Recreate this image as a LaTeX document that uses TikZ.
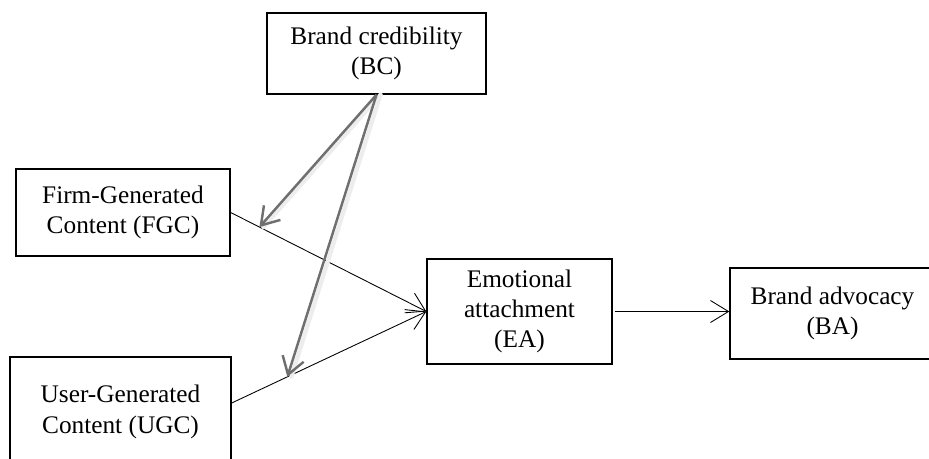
\documentclass[tikz,border=0pt]{standalone}
\usepackage{fontspec}
\setmainfont{Liberation Serif}
\usepackage{xcolor}
\usepackage{tikz}
\usetikzlibrary{arrows.meta,positioning,calc}
\definecolor{modgray}{HTML}{6F6F6F}
\definecolor{shadegray}{HTML}{EDEDED}
\tikzset{
  construct/.style={rectangle,draw=black,line width=0.8pt,fill=white,align=center,font=\fontsize{14.4}{17.2}\selectfont,inner sep=2pt},
  path/.style={-{Straight Barb[length=3.6mm,width=4.4mm]},line width=0.5pt,draw=black},
  moderate/.style={-{Straight Barb[length=3.4mm,width=4.4mm]},line width=1.4pt,draw=modgray}
}

\begin{document}
\begin{tikzpicture}[x=0.02cm,y=-0.02cm,
  shade/.style={line width=2.4pt,draw=shadegray,line cap=round}
]
  \useasboundingbox (0,0) rectangle (929,458);

  \node[construct,minimum width=4.38cm,minimum height=1.62cm] (bc) at (376.5,53.5) {Brand credibility\\(BC)};
  \node[construct,minimum width=4.28cm,minimum height=1.74cm] (fgc) at (123,212.5) {Firm-Generated\\Content (FGC)};
  \node[construct,minimum width=4.42cm,minimum height=2.2cm] (ugc) at (120.5,412) {User-Generated\\Content (UGC)};
  \node[construct,minimum width=3.7cm,minimum height=2.1cm] (ea) at (519.5,311.5) {Emotional\\attachment\\(EA)};
  \node[construct,minimum width=4.1cm,minimum height=1.82cm] (ba) at (832.5,313.5) {Brand advocacy\\(BA)};

  \draw[path] (fgc.east) -- coordinate[pos=0.147] (onfgc) (ea.west);
  \draw[path] ([yshift=0.18cm]ugc.east) -- coordinate[pos=0.286] (onugc) (ea.west);
  \draw[path] ([xshift=0.04cm]ea.east) -- (ea.east -| ba.west);

  % moderating effect of brand credibility
  \draw[shade] ([xshift=0.08cm]bc.south) -- ([xshift=0.08cm]onfgc);
  \draw[shade] ([xshift=0.08cm]bc.south) -- ([xshift=0.08cm]onugc);
  \draw[moderate] (bc.south) -- (onfgc);
  \draw[moderate] (bc.south) -- (onugc);
\end{tikzpicture}
\end{document}
